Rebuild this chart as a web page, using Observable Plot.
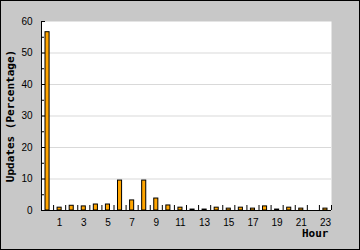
<!DOCTYPE html>
<html>
<head>
<meta charset="utf-8">
<script src="https://cdn.jsdelivr.net/npm/d3@7"></script>
<script src="https://cdn.jsdelivr.net/npm/@observablehq/plot@0.6"></script>
<style>
  html, body { margin: 0; padding: 0; background: #c8c8c8; }
  #chart svg { outline: 1px solid #000; outline-offset: -1px; }
</style>
</head>
<body>
<div id="chart"></div>
<script>
// Share of updates per hour of the day (percent)
const hours = d3.range(0, 24);
const updates = [56.6, 0.9, 1.5, 1.3, 1.9, 1.9, 9.5, 3.2, 9.5, 3.8, 1.6, 0.9,
                 0.3, 0.3, 0.9, 0.6, 0.9, 0.6, 1.3, 0.3, 0.9, 0.6, 0, 0.6];
const hourLabels = [1, 3, 5, 7, 9, 11, 13, 15, 17, 19, 21, 23];
const yMajor = [0, 10, 20, 30, 40, 50, 60];
const yMinor = [5, 15, 25, 35, 45, 55];
const yGrid = [10, 20, 30, 40, 50];

const data = hours.map((h, i) => ({hour: h, value: updates[i]}));
const boundaries = d3.range(1, 25);

const chart = Plot.plot({
  width: 360,
  height: 250,
  marginTop: 21,
  marginBottom: 40,
  marginLeft: 41,
  marginRight: 29,
  style: {background: "#c8c8c8", fontFamily: "'Liberation Sans', Arial, sans-serif", fontSize: "10px", color: "#000"},
  x: {domain: [0, 24], axis: null},
  y: {domain: [0, 60], axis: null},
  marks: [
    Plot.frame({fill: "white", stroke: "none"}),
    Plot.ruleY(yGrid, {stroke: "#d9d9d9"}),
    Plot.rectY(data, {
      x1: "hour", x2: d => d.hour + 1, y: "value",
      insetLeft: 4, insetRight: 4,
      fill: "#ffa500", stroke: "#000", strokeWidth: 1
    }),
    // inward ticks at hour boundaries
    Plot.ruleX(boundaries, {x: d => d, y1: 0, y2: 0, insetTop: -5, stroke: "#000"}),
    // inward y ticks
    Plot.ruleY(yMajor, {y: d => d, x1: 0, x2: 0, insetRight: -4, stroke: "#000"}),
    Plot.ruleY(yMinor, {y: d => d, x1: 0, x2: 0, insetRight: -3, stroke: "#000"}),
    Plot.ruleX([0], {stroke: "#000"}),
    Plot.ruleY([0], {stroke: "#000"}),
    Plot.axisY({ticks: yMajor, tickSize: 0, tickPadding: 9, label: null}),
    Plot.axisX({
      ticks: hourLabels.map(h => h + 0.5),
      tickFormat: d => String(d - 0.5),
      tickSize: 0, tickPadding: 8, label: null
    }),
    Plot.text(["Hour"], {
      frameAnchor: "bottom-right", textAnchor: "end", dx: -3, dy: 26,
      fontFamily: "'DejaVu Sans Mono', monospace", fontWeight: "bold", fontSize: 11
    }),
    Plot.text(["Updates (Percentage)"], {
      frameAnchor: "left", textAnchor: "middle", rotate: -90, dx: -31,
      fontFamily: "'DejaVu Sans Mono', monospace", fontWeight: "bold", fontSize: 11
    })
  ]
});

document.getElementById("chart").append(chart);
</script>
</body>
</html>
